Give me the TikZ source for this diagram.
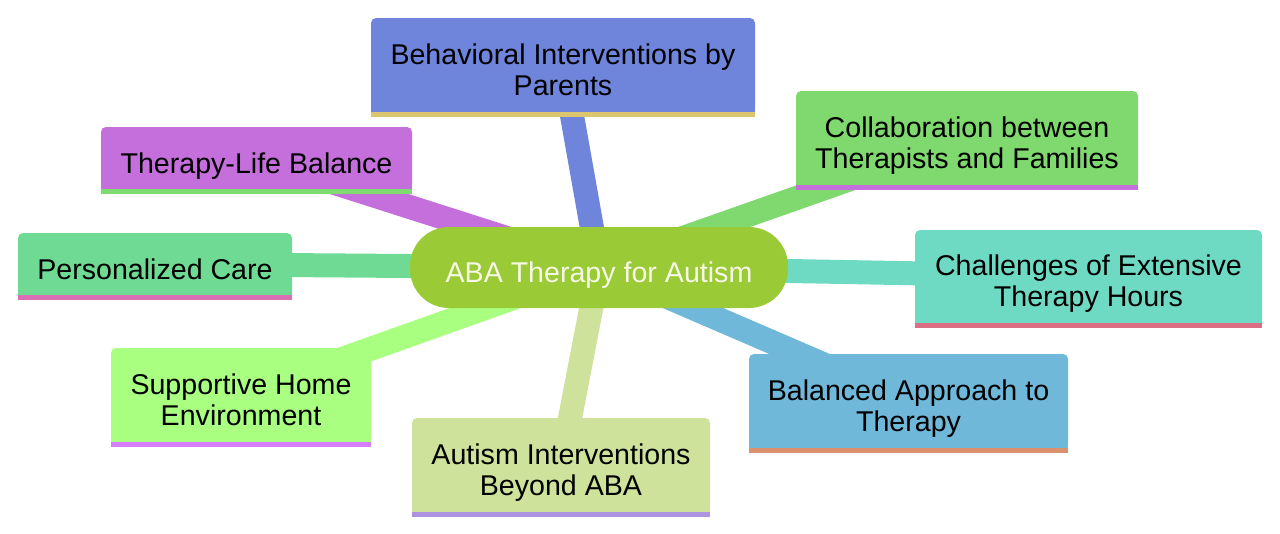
\documentclass[tikz,border=0pt]{standalone}
\usepackage{fontspec}
\newfontfamily\mapfont{Liberation Sans}
\definecolor{abafill}{HTML}{9ACA35}
\definecolor{abatext}{HTML}{F6F8E8}
\definecolor{behfill}{HTML}{6F84DB}
\definecolor{behline}{HTML}{DBC66F}
\definecolor{collabfill}{HTML}{7FD96F}
\definecolor{collabline}{HTML}{C46FDB}
\definecolor{lifefill}{HTML}{C46FDB}
\definecolor{lifeline}{HTML}{7FDB6F}
\definecolor{carefill}{HTML}{6FDA94}
\definecolor{careline}{HTML}{DA6FB5}
\definecolor{hoursfill}{HTML}{6FDAC4}
\definecolor{hoursline}{HTML}{DA6F86}
\definecolor{balancefill}{HTML}{6FB8DA}
\definecolor{balanceline}{HTML}{DA916F}
\definecolor{homefill}{HTML}{A9FF7F}
\definecolor{homeline}{HTML}{D57FFF}
\definecolor{beyondfill}{HTML}{CFE29B}
\definecolor{beyondline}{HTML}{AE93E0}
\pgfdeclarelayer{bg}
\pgfsetlayers{bg,main}

\begin{document}
\begin{tikzpicture}[x=1pt,y=-1pt,
    box/.style={rectangle,rounded corners=5pt,inner sep=0pt,outer sep=0pt},
    lbl/.style={font=\mapfont\fontsize{28.6}{31}\selectfont,align=center,inner sep=0pt,
      yshift=-9pt,execute at begin node=\strut,execute at end node=\strut},
    edge/.style={line width=24pt}]
        \useasboundingbox (0,0) rectangle (1280,533);

        % centre
        \node[box,fill=abafill,rounded corners=39pt,minimum width=378,minimum height=81] (aba) at (599,267.5) {};
        \node[lbl,text=abatext] at (aba) {ABA Therapy for Autism};

        % branches
        \node[box,fill=behfill,minimum width=384,minimum height=94] (beh) at (563,65) {};
        \node[lbl] at (beh) {Behavioral Interventions by\\Parents};
        \node[box,fill=collabfill,minimum width=342,minimum height=94] (collab) at (967,138) {};
        \node[lbl] at (collab) {Collaboration between\\Therapists and Families};
        \node[box,fill=lifefill,minimum width=311,minimum height=62] (life) at (256.5,158) {};
        \node[lbl] at (life) {Therapy-Life Balance};
        \node[box,fill=carefill,minimum width=274,minimum height=62] (care) at (155,264) {};
        \node[lbl] at (care) {Personalized Care};
        \node[box,fill=hoursfill,minimum width=347,minimum height=93] (hours) at (1088.5,276.5) {};
        \node[lbl] at (hours) {Challenges of Extensive\\Therapy Hours};
        \node[box,fill=balancefill,minimum width=319,minimum height=94] (balance) at (908.5,401) {};
        \node[lbl] at (balance) {Balanced Approach to\\Therapy};
        \node[box,fill=homefill,minimum width=260,minimum height=94] (home) at (241,395) {};
        \node[lbl] at (home) {Supportive Home\\Environment};
        \node[box,fill=beyondfill,minimum width=298,minimum height=94] (beyond) at (561,465) {};
        \node[lbl] at (beyond) {Autism Interventions\\Beyond ABA};

        % square bottoms and underlines
        \foreach \n/\f/\c in {beh/behfill/behline,collab/collabfill/collabline,
            life/lifefill/lifeline,care/carefill/careline,hours/hoursfill/hoursline,
            balance/balancefill/balanceline,home/homefill/homeline,beyond/beyondfill/beyondline}{
          \fill[\f] ([yshift=6pt]\n.south west) rectangle (\n.south east);
          \fill[\c] (\n.south west) rectangle ([yshift=-5pt]\n.south east);
        }

        % links
        \begin{pgfonlayer}{bg}
          \foreach \n/\f in {beh/behfill,collab/collabfill,life/lifefill,care/carefill,
              hours/hoursfill,balance/balancefill,home/homefill,beyond/beyondfill}
            \draw[edge,\f] (aba.center) -- (\n.center);
        \end{pgfonlayer}
\end{tikzpicture}
\end{document}
